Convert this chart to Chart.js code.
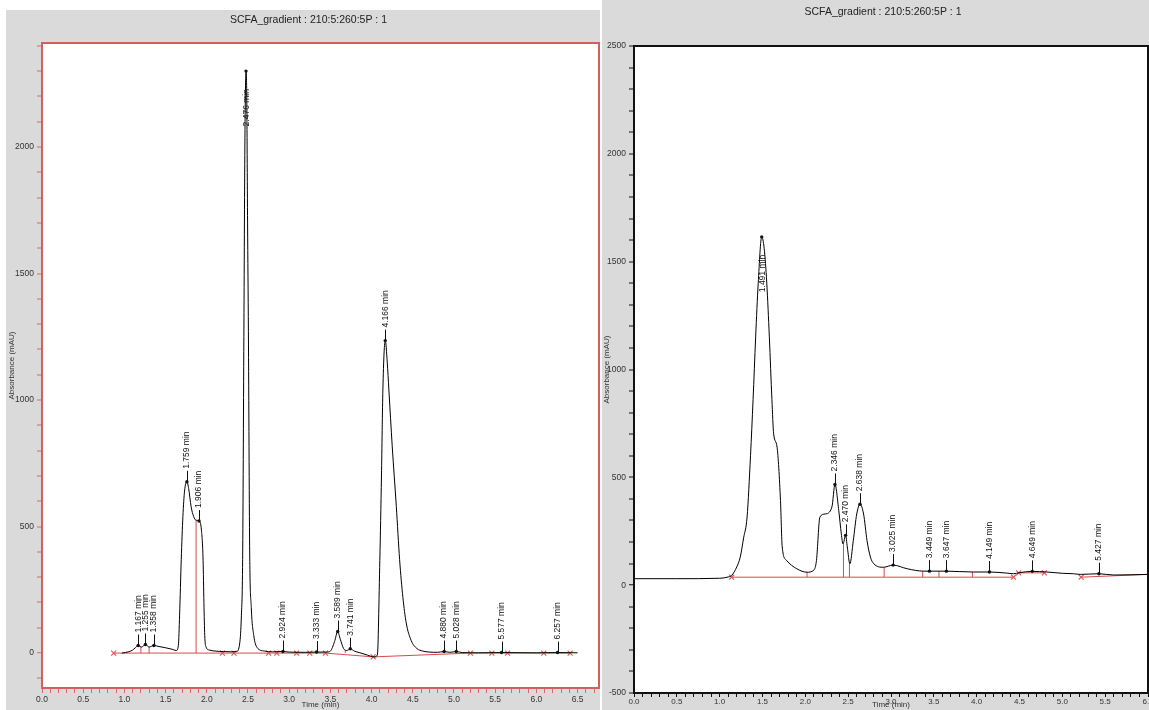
<!DOCTYPE html>
<html><head><meta charset="utf-8">
<script src="https://cdn.jsdelivr.net/npm/chart.js@4.4.1/dist/chart.umd.min.js"></script>
<style>
body{margin:0;background:#fff;width:1149px;height:710px;overflow:hidden;position:relative;font-family:"Liberation Sans",Arial,sans-serif}
#p1{position:absolute;left:6px;top:10px;width:594px;height:700px;background:#dadada}
#p2{position:absolute;left:602px;top:0;width:547px;height:710px;background:#dadada}
canvas{display:block}
</style></head><body>
<div id="p1"><canvas id="c1" width="594" height="700"></canvas></div>
<div id="p2"><canvas id="c2" width="547" height="710"></canvas></div>
<script>
const chartTitle = 'SCFA_gradient : 210:5:260:5P : 1';
const yAxisTitle = 'Absorbance (mAU)';
const xAxisTitle = 'Time (min)';

// ---------- Left chromatogram ----------
const leftTime = [0.97,1.05,1.10,1.13,1.167,1.21,1.255,1.30,1.358,1.42,1.50,1.58,1.63,1.655,1.67,1.69,1.71,1.73,1.759,1.78,1.81,1.84,1.87,1.906,1.935,1.955,1.965,1.975,1.99,2.03,2.10,2.20,2.30,2.36,2.40,2.42,2.435,2.45,2.462,2.476,2.485,2.495,2.505,2.52,2.54,2.57,2.61,2.70,2.80,2.924,3.00,3.20,3.333,3.45,3.50,3.55,3.589,3.62,3.66,3.70,3.741,3.79,3.85,3.95,4.03,4.07,4.10,4.12,4.137,4.166,4.19,4.21,4.25,4.30,4.34,4.38,4.42,4.48,4.55,4.62,4.70,4.80,4.880,4.95,5.028,5.10,5.30,5.577,6.00,6.257,6.50];
const leftAbs = [0,5,12,20,30,24,34,24,30,26,21,15,10,30,150,370,540,640,677,650,578,540,525,522,486,367,200,70,25,12,8,6,5,6,40,150,370,1250,2000,2300,2200,1700,1270,420,180,70,22,8,5,6,4,3,4,4,8,45,85,55,18,10,17,8,2,-8,-15,-8,367,700,1040,1235,1150,1040,820,580,370,220,120,50,18,8,4,3,6,3,6,2,1,2,1,2,1];
const leftPeakTime = [1.167,1.255,1.358,1.759,1.906,2.476,2.924,3.333,3.589,3.741,4.166,4.880,5.028,5.577,6.257];
const leftPeakAbs = [30,34,30,677,522,2300,6,4,85,17,1235,6,6,2,2];
const leftInsideLabels = [2.476];
const leftBaseTime = [0.87,3.44,4.02,5.20,6.41];
const leftBaseAbs = [0,0,-15,0,0];
const leftMarkTime = [0.87,2.19,2.33,2.75,2.85,3.09,3.25,3.44,4.02,5.20,5.46,5.65,6.09,6.41];
const leftMarkAbs = [0,0,0,0,0,0,0,0,-15,0,0,0,0,0];
const leftDropTime = [1.20,1.30,1.87,3.68];
const leftDropTop = [24,24,525,10];
const leftDropBase = [0,0,0,0];
const leftXMin = 0, leftXMax = 6.76, leftYMin = -138, leftYMax = 2411;
const leftXLabels = ['0.0','0.5','1.0','1.5','2.0','2.5','3.0','3.5','4.0','4.5','5.0','5.5','6.0','6.5'];
const leftYLabels = ['0','500','1000','1500','2000'];

// ---------- Right chromatogram ----------
const rightTime = [0.00,0.50,1.00,1.10,1.14,1.20,1.24,1.28,1.32,1.36,1.39,1.42,1.45,1.491,1.52,1.55,1.58,1.61,1.63,1.67,1.71,1.73,1.78,1.90,2.02,2.10,2.13,2.17,2.23,2.31,2.346,2.39,2.42,2.44,2.470,2.49,2.52,2.56,2.60,2.638,2.68,2.72,2.76,2.80,2.91,3.025,3.19,3.38,3.449,3.647,3.96,4.149,4.35,4.43,4.50,4.649,4.82,5.00,5.13,5.21,5.427,5.60,6.00];
const rightAbs = [30,30,32,38,45,85,130,220,316,600,860,1150,1400,1615,1560,1400,1150,860,702,640,392,177,115,76,60,70,115,316,330,362,467,347,238,191,231,177,99,207,330,375,330,207,130,99,83,93,76,65,65,65,61,61,56,53,58,64,61,55,53,50,53,47,50];
const rightPeakTime = [1.491,2.346,2.470,2.638,3.025,3.449,3.647,4.149,4.649,5.427];
const rightPeakAbs = [1615,467,231,375,93,65,65,61,64,53];
const rightInsideLabels = [1.491];
const rightBaseT0 = [1.14,4.49,5.22];
const rightBaseT1 = [4.43,4.79,6.00];
const rightBaseY0 = [37,57,37];
const rightBaseY1 = [37,57,50];
const rightMarkTime = [1.14,4.43,4.49,4.79,5.22];
const rightMarkAbs = [37,37,57,57,37];
const rightDropTime = [2.02,2.445,2.515,2.92,3.37,3.56,3.95];
const rightDropTop = [60,191,99,83,65,65,61];
const rightDropBase = [37,37,37,37,37,37,37];
const rightXMin = 0, rightXMax = 6, rightYMin = -500, rightYMax = 2500;
const rightXLabels = ['0.0','0.5','1.0','1.5','2.0','2.5','3.0','3.5','4.0','4.5','5.0','5.5','6.0'];
const rightYLabels = ['-500','0','500','1000','1500','2000','2500'];

const FONT = '"Liberation Sans", Arial, sans-serif';
const zip = (a, b) => a.map((v, i) => ({x: v, y: b[i]}));
function dropData(t, top, base) {
  const d = [];
  t.forEach((v, i) => { d.push({x: v, y: base[i]}, {x: v, y: top[i]}, {x: v, y: null}); });
  return d;
}
function segData(t0, t1, y0, y1) {
  const d = [];
  t0.forEach((v, i) => { d.push({x: v, y: y0[i]}, {x: t1[i], y: y1[i]}, {x: t1[i], y: null}); });
  return d;
}
function minorTicks(min, max, step) {
  const out = [];
  const n0 = Math.ceil(min / step - 1e-9), n1 = Math.floor(max / step + 1e-9);
  for (let n = n0; n <= n1; n++) out.push({value: +(n * step).toFixed(4)});
  return out;
}
function labelFor(labels, v) {
  const s = labels.find(l => Math.abs(parseFloat(l) - v) < 1e-6);
  return s === undefined ? '' : s;
}

function peakLabelPlugin(times, values, inside) {
  return {
    id: 'peakLabels',
    afterDatasetsDraw(chart) {
      const {ctx, scales: {x, y}} = chart;
      ctx.save();
      ctx.font = '8.5px ' + FONT;
      ctx.fillStyle = '#111';
      ctx.strokeStyle = '#111';
      ctx.lineWidth = 1;
      times.forEach((t, i) => {
        const px = x.getPixelForValue(t), py = y.getPixelForValue(values[i]);
        const txt = t.toFixed(3) + ' min';
        const w = ctx.measureText(txt).width;
        ctx.beginPath(); ctx.arc(px, py, 1.7, 0, Math.PI * 2); ctx.fill();
        ctx.save();
        ctx.textAlign = 'left'; ctx.textBaseline = 'middle';
        if (inside.includes(t)) {
          ctx.translate(px + 0.5, py + 18 + w);
        } else {
          ctx.beginPath(); ctx.moveTo(Math.round(px) + 0.5, py); ctx.lineTo(Math.round(px) + 0.5, py - 11); ctx.stroke();
          ctx.translate(px, py - 13);
        }
        ctx.rotate(-Math.PI / 2);
        ctx.fillText(txt, 0, 0);
        ctx.restore();
      });
      ctx.restore();
    }
  };
}
function framePlugin(color, width, titleY, titleShift) {
  return {
    id: 'frame',
    beforeDatasetsDraw(chart) {
      const {ctx, chartArea: a} = chart;
      ctx.save();
      ctx.fillStyle = '#fff';
      ctx.fillRect(a.left, a.top, a.right - a.left, a.bottom - a.top);
      ctx.restore();
    },
    afterDraw(chart) {
      const {ctx, chartArea: a} = chart;
      ctx.save();
      ctx.strokeStyle = color; ctx.lineWidth = width;
      ctx.strokeRect(a.left, a.top, a.right - a.left, a.bottom - a.top);
      ctx.fillStyle = '#222';
      ctx.font = '10.5px ' + FONT;
      ctx.textAlign = 'center'; ctx.textBaseline = 'middle';
      ctx.fillText(chartTitle, (a.left + a.right) / 2 + titleShift, titleY);
      ctx.restore();
    }
  };
}

function makeChart(id, cfg) {
  const tickCol = cfg.tickColor;
  return new Chart(document.getElementById(id), {
    type: 'line',
    data: {
      datasets: [
        {data: zip(cfg.time, cfg.abs), borderColor: '#000', borderWidth: 1, pointRadius: 0, cubicInterpolationMode: 'monotone'},
        {data: cfg.markers, showLine: false, pointStyle: 'crossRot', pointRadius: 3.5, borderColor: '#e05a5a', borderWidth: 1.2, backgroundColor: '#e05a5a'},
        {data: cfg.drops, borderColor: '#d84a4a', borderWidth: 1, pointRadius: 0, spanGaps: false, tension: 0},
        {data: cfg.base, borderColor: '#d84a4a', borderWidth: 1, pointRadius: 0, spanGaps: false, tension: 0}
      ]
    },
    options: {
      responsive: false, animation: false, devicePixelRatio: 1,
      layout: {padding: cfg.padding, autoPadding: false},
      plugins: {legend: {display: false}, tooltip: {enabled: false}, title: {display: false}},
      scales: {
        x: {
          type: 'linear', min: cfg.xMin, max: cfg.xMax,
          afterFit: s => { s.height = cfg.xHeight; s.paddingLeft = 0; s.paddingRight = 0; },
          afterBuildTicks: s => { s.ticks = minorTicks(cfg.xMin, cfg.xMax, 0.1); },
          ticks: {autoSkip: false, maxRotation: 0, padding: cfg.xTickPad, color: '#333', font: {size: cfg.xFont, family: FONT}, callback: v => labelFor(cfg.xLabels, v)},
          grid: {drawOnChartArea: false, drawTicks: true, tickLength: cfg.xTickLen, tickColor: tickCol, tickWidth: 1, color: tickCol},
          border: {display: false},
          title: {display: true, text: xAxisTitle, color: '#333', font: {size: 8, family: FONT}, padding: {top: 0, bottom: 0}}
        },
        y: {
          type: 'linear', min: cfg.yMin, max: cfg.yMax,
          afterFit: s => { s.width = cfg.yWidth; s.paddingTop = 0; s.paddingBottom = 0; },
          afterBuildTicks: s => { s.ticks = minorTicks(cfg.yMin, cfg.yMax, 100); },
          ticks: {autoSkip: false, padding: 3, color: '#333', font: {size: 8.5, family: FONT}, callback: v => labelFor(cfg.yLabels, v)},
          grid: {drawOnChartArea: cfg.zeroLine, drawTicks: true, tickLength: 5, tickColor: tickCol, tickWidth: 1,
                 color: c => (c.tick && c.tick.value === 0) ? '#a8a8a8' : 'rgba(0,0,0,0)', lineWidth: c => (c.tick && c.tick.value === 0) ? 1.5 : 0},
          border: {display: false},
          title: {display: true, text: yAxisTitle, color: '#333', font: {size: 8, family: FONT}, padding: {top: cfg.yTitlePad, bottom: 0}}
        }
      }
    },
    plugins: [framePlugin(cfg.frameColor, cfg.frameWidth, cfg.titleY, cfg.titleShift), peakLabelPlugin(cfg.peakT, cfg.peakA, cfg.inside)]
  });
}

makeChart('c1', {
  time: leftTime, abs: leftAbs,
  markers: zip(leftMarkTime, leftMarkAbs),
  drops: dropData(leftDropTime, leftDropTop, leftDropBase),
  base: zip(leftBaseTime, leftBaseAbs),
  peakT: leftPeakTime, peakA: leftPeakAbs, inside: leftInsideLabels,
  xMin: leftXMin, xMax: leftXMax, yMin: leftYMin, yMax: leftYMax,
  xLabels: leftXLabels, yLabels: leftYLabels,
  padding: {top: 33, right: 1, left: 0, bottom: 0},
  xHeight: 22, yWidth: 36, xTickPad: 2, xTickLen: 5, xFont: 8.5, yTitlePad: 1,
  tickColor: '#d86a6a', frameColor: '#d45f5f', frameWidth: 2, zeroLine: true,
  titleY: 10, titleShift: -12
});
makeChart('c2', {
  time: rightTime, abs: rightAbs,
  markers: zip(rightMarkTime, rightMarkAbs),
  drops: dropData(rightDropTime, rightDropTop, rightDropBase),
  base: segData(rightBaseT0, rightBaseT1, rightBaseY0, rightBaseY1),
  peakT: rightPeakTime, peakA: rightPeakAbs, inside: rightInsideLabels,
  xMin: rightXMin, xMax: rightXMax, yMin: rightYMin, yMax: rightYMax,
  xLabels: rightXLabels, yLabels: rightYLabels,
  padding: {top: 46, right: 1, left: 0, bottom: 0},
  xHeight: 17, yWidth: 32, xTickPad: 0, xTickLen: 4, xFont: 8, yTitlePad: 0,
  tickColor: '#111', frameColor: '#111', frameWidth: 2, zeroLine: false,
  titleY: 12, titleShift: -8
});
</script>
</body></html>
